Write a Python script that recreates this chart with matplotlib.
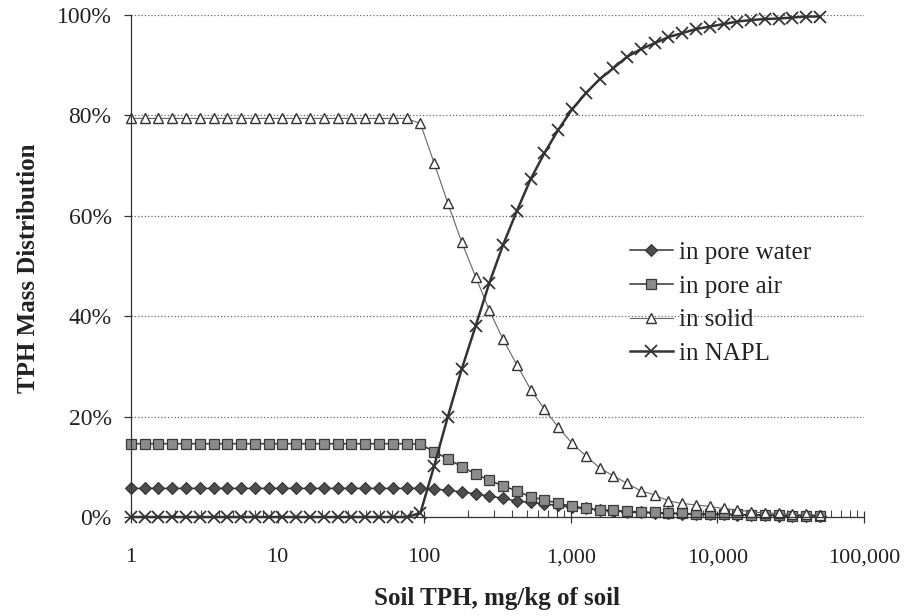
import matplotlib.pyplot as plt
from matplotlib.ticker import FixedLocator, FuncFormatter, LogLocator, NullFormatter


# soil TPH (mg/kg)
SOIL_TPH = [
    1, 1.24, 1.54, 1.91, 2.38, 2.95, 3.66, 4.55, 5.65, 7.01,
    8.71, 10.8, 13.4, 16.7, 20.7, 25.7, 31.9, 39.6, 49.2, 61.1,
    75.9, 94.2, 117, 145, 180, 224, 278, 345, 429, 532,
    661, 820, 1019, 1265, 1570, 1950, 2421, 3006, 3733, 4634,
    5754, 7145, 8872, 11015, 13677, 16982, 21086, 26182, 32509, 40365,
    50119,
]

# mass distribution, %
PORE_WATER = [5.7] * 21 + [
    5.7, 5.6, 5.3, 5.0, 4.6, 4.2, 3.7, 3.2, 2.9, 2.6,
    2.3, 1.9, 1.7, 1.4, 1.25, 1.05, 0.9, 0.8, 0.7, 0.65,
    0.6, 0.55, 0.5, 0.45, 0.4, 0.35, 0.3, 0.3, 0.25, 0.25,
]
PORE_AIR = [14.6] * 21 + [
    14.5, 13.0, 11.6, 10.0, 8.6, 7.3, 6.2, 5.2, 4.0, 3.4,
    2.7, 2.2, 1.7, 1.4, 1.3, 1.15, 1.0, 0.9, 0.8, 0.7,
    0.65, 0.6, 0.55, 0.5, 0.45, 0.4, 0.35, 0.3, 0.3, 0.25,
]
SOLID = [79.4] * 21 + [
    78.4, 70.5, 62.5, 54.8, 47.9, 41.2, 35.4, 30.3, 25.4, 21.5,
    17.9, 14.7, 12.2, 9.8, 8.2, 6.7, 5.2, 4.4, 3.2, 2.7,
    2.4, 2.1, 1.7, 1.4, 1.05, 0.8, 0.7, 0.5, 0.5, 0.4,
]
NAPL = [0.0] * 21 + [
    0.8, 10.2, 20.0, 29.4, 38.0, 46.6, 54.2, 61.0, 67.3, 72.5,
    77.1, 81.2, 84.4, 87.2, 89.4, 91.7, 93.2, 94.4, 95.6, 96.4,
    97.2, 97.7, 98.2, 98.7, 99.0, 99.2, 99.3, 99.5, 99.7, 99.7,
]

X_TICKS = [1, 10, 100, 1000, 10000, 100000]
Y_TICKS = [0, 20, 40, 60, 80, 100]

SERIES = [
    ("in pore water", PORE_WATER,
     dict(color="#333333", lw=1.1, marker="D", ms=6.5, mfc="#4d4d4d", mec="#333333", mew=0.8)),
    ("in pore air", PORE_AIR,
     dict(color="#333333", lw=1.1, marker="s", ms=6.5, mfc="#8c8c8c", mec="#3a3a3a", mew=0.9)),
    ("in solid", SOLID,
     dict(color="#666666", lw=0.8, marker="^", ms=6.5, mfc="white", mec="#333333", mew=1.0)),
    ("in NAPL", NAPL,
     dict(color="#333333", lw=1.8, marker="x", ms=8, mec="#333333", mew=1.3)),
]

plt.rcParams["font.family"] = ["Liberation Serif", "DejaVu Serif"]

fig = plt.figure(figsize=(9.11, 6.16), dpi=100)
ax = fig.add_axes([0.1438, 0.1607, 0.8046, 0.8149])

for label, values, style in SERIES:
    ax.plot(SOIL_TPH, values, label=label, clip_on=False, **style)

ax.set_xscale("log")
ax.set_xlim(1, 100000)
ax.set_ylim(0, 100)

ax.xaxis.set_major_locator(FixedLocator(X_TICKS))
ax.xaxis.set_major_formatter(FuncFormatter(lambda v, _: f"{int(round(v)):,}"))
ax.xaxis.set_minor_locator(LogLocator(base=10, subs=range(2, 10)))
ax.xaxis.set_minor_formatter(NullFormatter())
ax.yaxis.set_major_locator(FixedLocator(Y_TICKS))
ax.yaxis.set_major_formatter(FuncFormatter(lambda v, _: f"{v:.0f}%"))

ax.tick_params(axis="x", which="major", direction="inout", length=9, width=0.9,
               color="#333333", labelsize=16, pad=18, labelcolor="#222222")
ax.tick_params(axis="x", which="minor", direction="in", length=5, width=0.8, color="#444444")
ax.tick_params(axis="y", which="major", direction="out", length=5, width=0.9,
               color="#333333", labelsize=17, pad=9, labelcolor="#222222")

for side in ("top", "right"):
    ax.spines[side].set_visible(False)
for side in ("left", "bottom"):
    ax.spines[side].set_color("#333333")
    ax.spines[side].set_linewidth(0.9)

ax.grid(axis="y", linestyle=":", color="#666666", linewidth=0.9)
ax.set_axisbelow(True)

ax.set_xlabel("Soil TPH, mg/kg of soil", fontsize=18, fontweight="bold", color="#222222")
ax.set_ylabel("TPH Mass Distribution", fontsize=18, fontweight="bold", color="#222222")
ax.xaxis.set_label_coords(0.5, -0.14)
ax.yaxis.set_label_coords(-0.124, 0.496)

ax.legend(loc="center left", bbox_to_anchor=(0.681, 0.426), frameon=False,
          fontsize=18, handlelength=1.7, handletextpad=0.25, labelspacing=0.45,
          borderpad=0, borderaxespad=0, labelcolor="#222222")

fig.savefig("out.png", dpi=100)
